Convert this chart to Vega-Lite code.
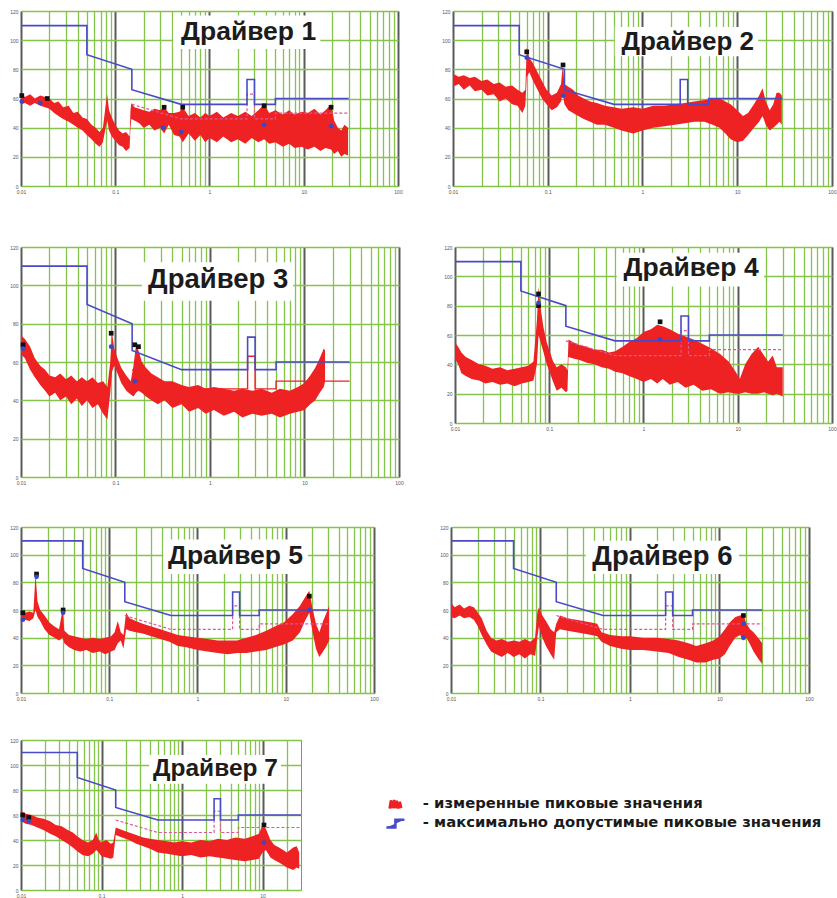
{
"$schema":"https://vega.github.io/schema/vega-lite/v6.json",
"padding":{"left":9,"top":8,"right":4,"bottom":4},
"background":"white",
"config":{"view":{"stroke":"#8a8a8a","strokeWidth":1},"font":"Liberation Sans","axisY":{"title":null,"grid":true,"values":[0,20,40,60,80,100,120],"tickCount":20,"labelOverlap":false,"ticks":false,"domain":false,"labelFontSize":5,"labelColor":"#555","labelPadding":3,"gridColor":"#84c44a","gridWidth":1.4}},
"datasets":{
"ttl":[{"p":1,"t":"Драйвер 1"},{"p":2,"t":"Драйвер 2"},{"p":3,"t":"Драйвер 3"},{"p":4,"t":"Драйвер 4"},{"p":5,"t":"Драйвер 5"},{"p":6,"t":"Драйвер 6"},{"p":7,"t":"Драйвер 7"}],
"lim":[{"f":0.01,"v":110},{"f":0.05,"v":110},{"f":0.05,"v":90},{"f":0.15,"v":80},{"f":0.15,"v":66},{"f":0.5,"v":56},{"f":2.5,"v":56},{"f":2.5,"v":73},{"f":3,"v":73},{"f":3,"v":56},{"f":5,"v":56},{"f":5,"v":60},{"f":30,"v":60}],
"avg":[{"f":0.15,"v":56},{"f":0.5,"v":46},{"f":2.5,"v":46},{"f":2.5,"v":63},{"f":3,"v":63},{"f":3,"v":46},{"f":5,"v":46},{"f":5,"v":50},{"f":30,"v":50}],
"mk":[
{"p":1,"f":0.0102,"v":62,"k":"pk"},{"p":1,"f":0.019,"v":60,"k":"pk"},{"p":1,"f":0.33,"v":54,"k":"pk"},{"p":1,"f":0.52,"v":54,"k":"pk"},{"p":1,"f":3.8,"v":55,"k":"pk"},{"p":1,"f":19.5,"v":54,"k":"pk"},
{"p":1,"f":0.0102,"v":58,"k":"av"},{"p":1,"f":0.016,"v":57,"k":"av"},{"p":1,"f":0.32,"v":40,"k":"av"},{"p":1,"f":0.5,"v":37,"k":"av"},{"p":1,"f":3.8,"v":42,"k":"av"},{"p":1,"f":19.5,"v":41,"k":"av"},
{"p":2,"f":0.06,"v":92,"k":"pk"},{"p":2,"f":0.145,"v":83,"k":"pk"},{"p":2,"f":0.06,"v":88,"k":"av"},{"p":2,"f":0.145,"v":62,"k":"av"},
{"p":3,"f":0.0105,"v":69,"k":"pk"},{"p":3,"f":0.09,"v":75,"k":"pk"},{"p":3,"f":0.16,"v":69,"k":"pk"},{"p":3,"f":0.175,"v":68,"k":"pk"},{"p":3,"f":0.0105,"v":67,"k":"av"},{"p":3,"f":0.09,"v":68,"k":"av"},{"p":3,"f":0.16,"v":50,"k":"av"},
{"p":4,"f":0.077,"v":88,"k":"pk"},{"p":4,"f":0.077,"v":80,"k":"pk"},{"p":4,"f":1.5,"v":69,"k":"pk"},{"p":4,"f":0.077,"v":82,"k":"av"},{"p":4,"f":1.5,"v":57,"k":"av"},
{"p":5,"f":0.0105,"v":58,"k":"pk"},{"p":5,"f":0.015,"v":86,"k":"pk"},{"p":5,"f":0.03,"v":60,"k":"pk"},{"p":5,"f":18.5,"v":70,"k":"pk"},{"p":5,"f":0.0105,"v":53,"k":"av"},{"p":5,"f":0.015,"v":84,"k":"av"},{"p":5,"f":0.03,"v":58,"k":"av"},{"p":5,"f":18.5,"v":60,"k":"av"},
{"p":6,"f":18.5,"v":56,"k":"pk"},{"p":6,"f":18.5,"v":50,"k":"av"},{"p":6,"f":18.5,"v":40,"k":"av"},
{"p":7,"f":0.0105,"v":60,"k":"pk"},{"p":7,"f":0.0125,"v":58,"k":"pk"},{"p":7,"f":10.4,"v":52,"k":"pk"},{"p":7,"f":0.0105,"v":56,"k":"av"},{"p":7,"f":0.0125,"v":55,"k":"av"},{"p":7,"f":10.4,"v":38,"k":"av"}
],
"red":[
{"p":1,"f":0.01,"lo":56,"hi":64},{"p":1,"f":0.011,"lo":57,"hi":61},{"p":1,"f":0.0125,"lo":55,"hi":63},{"p":1,"f":0.014,"lo":57,"hi":60},{"p":1,"f":0.016,"lo":55,"hi":62},{"p":1,"f":0.018,"lo":54,"hi":61},{"p":1,"f":0.02,"lo":53,"hi":60},{"p":1,"f":0.0225,"lo":50,"hi":57},{"p":1,"f":0.025,"lo":48,"hi":58},{"p":1,"f":0.028,"lo":46,"hi":54},{"p":1,"f":0.032,"lo":44,"hi":55},{"p":1,"f":0.036,"lo":42,"hi":50},{"p":1,"f":0.04,"lo":40,"hi":51},{"p":1,"f":0.045,"lo":38,"hi":47},{"p":1,"f":0.05,"lo":35,"hi":46},{"p":1,"f":0.056,"lo":32,"hi":42},{"p":1,"f":0.062,"lo":29,"hi":40},{"p":1,"f":0.068,"lo":27,"hi":37},{"p":1,"f":0.074,"lo":30,"hi":40},{"p":1,"f":0.079,"lo":40,"hi":55},{"p":1,"f":0.082,"lo":45,"hi":63},{"p":1,"f":0.086,"lo":38,"hi":52},{"p":1,"f":0.092,"lo":34,"hi":47},{"p":1,"f":0.1,"lo":31,"hi":42},{"p":1,"f":0.11,"lo":28,"hi":38},{"p":1,"f":0.12,"lo":27,"hi":36},{"p":1,"f":0.13,"lo":24,"hi":37},{"p":1,"f":0.142,"lo":26,"hi":34},{"p":1,"f":0.145,"lo":40,"hi":52},{"p":1,"f":0.148,"lo":46,"hi":57},{"p":1,"f":0.16,"lo":45,"hi":54},{"p":1,"f":0.18,"lo":43,"hi":53},{"p":1,"f":0.2,"lo":40,"hi":52},{"p":1,"f":0.23,"lo":42,"hi":51},{"p":1,"f":0.26,"lo":38,"hi":53},{"p":1,"f":0.3,"lo":40,"hi":52},{"p":1,"f":0.33,"lo":36,"hi":54},{"p":1,"f":0.37,"lo":42,"hi":50},{"p":1,"f":0.42,"lo":35,"hi":50},{"p":1,"f":0.48,"lo":34,"hi":51},{"p":1,"f":0.52,"lo":30,"hi":54},{"p":1,"f":0.6,"lo":36,"hi":48},{"p":1,"f":0.7,"lo":31,"hi":50},{"p":1,"f":0.8,"lo":35,"hi":47},{"p":1,"f":0.9,"lo":30,"hi":50},{"p":1,"f":1,"lo":33,"hi":48},{"p":1,"f":1.2,"lo":30,"hi":51},{"p":1,"f":1.4,"lo":34,"hi":47},{"p":1,"f":1.7,"lo":30,"hi":50},{"p":1,"f":2,"lo":32,"hi":48},{"p":1,"f":2.4,"lo":29,"hi":51},{"p":1,"f":2.8,"lo":33,"hi":48},{"p":1,"f":3.3,"lo":30,"hi":52},{"p":1,"f":3.8,"lo":32,"hi":56},{"p":1,"f":4.3,"lo":29,"hi":50},{"p":1,"f":5,"lo":30,"hi":52},{"p":1,"f":6,"lo":27,"hi":49},{"p":1,"f":7,"lo":29,"hi":52},{"p":1,"f":8,"lo":26,"hi":49},{"p":1,"f":9.5,"lo":27,"hi":51},{"p":1,"f":11,"lo":25,"hi":50},{"p":1,"f":13,"lo":27,"hi":53},{"p":1,"f":15,"lo":24,"hi":49},{"p":1,"f":17,"lo":26,"hi":52},{"p":1,"f":19.5,"lo":25,"hi":56},{"p":1,"f":21,"lo":22,"hi":45},{"p":1,"f":23,"lo":24,"hi":40},{"p":1,"f":25,"lo":20,"hi":38},{"p":1,"f":27,"lo":22,"hi":42},{"p":1,"f":29.5,"lo":21,"hi":40},
{"p":2,"f":0.01,"lo":68,"hi":77},{"p":2,"f":0.0115,"lo":70,"hi":75},{"p":2,"f":0.013,"lo":66,"hi":76},{"p":2,"f":0.015,"lo":69,"hi":74},{"p":2,"f":0.017,"lo":65,"hi":75},{"p":2,"f":0.02,"lo":66,"hi":72},{"p":2,"f":0.023,"lo":62,"hi":73},{"p":2,"f":0.027,"lo":63,"hi":70},{"p":2,"f":0.031,"lo":58,"hi":71},{"p":2,"f":0.036,"lo":60,"hi":68},{"p":2,"f":0.042,"lo":56,"hi":69},{"p":2,"f":0.048,"lo":55,"hi":66},{"p":2,"f":0.054,"lo":50,"hi":64},{"p":2,"f":0.058,"lo":55,"hi":66},{"p":2,"f":0.06,"lo":75,"hi":95},{"p":2,"f":0.064,"lo":78,"hi":88},{"p":2,"f":0.07,"lo":72,"hi":84},{"p":2,"f":0.078,"lo":66,"hi":78},{"p":2,"f":0.087,"lo":60,"hi":72},{"p":2,"f":0.097,"lo":56,"hi":66},{"p":2,"f":0.11,"lo":52,"hi":62},{"p":2,"f":0.125,"lo":54,"hi":64},{"p":2,"f":0.138,"lo":58,"hi":70},{"p":2,"f":0.144,"lo":64,"hi":83},{"p":2,"f":0.15,"lo":56,"hi":70},{"p":2,"f":0.165,"lo":52,"hi":68},{"p":2,"f":0.185,"lo":50,"hi":66},{"p":2,"f":0.21,"lo":48,"hi":62},{"p":2,"f":0.24,"lo":46,"hi":60},{"p":2,"f":0.28,"lo":44,"hi":58},{"p":2,"f":0.33,"lo":42,"hi":57},{"p":2,"f":0.4,"lo":42,"hi":55},{"p":2,"f":0.5,"lo":40,"hi":54},{"p":2,"f":0.6,"lo":38,"hi":53},{"p":2,"f":0.8,"lo":36,"hi":54},{"p":2,"f":1,"lo":38,"hi":53},{"p":2,"f":1.3,"lo":40,"hi":55},{"p":2,"f":1.7,"lo":41,"hi":55},{"p":2,"f":2.2,"lo":42,"hi":56},{"p":2,"f":2.8,"lo":43,"hi":57},{"p":2,"f":3.5,"lo":44,"hi":58},{"p":2,"f":4.5,"lo":44,"hi":59},{"p":2,"f":5.5,"lo":42,"hi":60},{"p":2,"f":6.5,"lo":40,"hi":60},{"p":2,"f":7.5,"lo":36,"hi":58},{"p":2,"f":8.5,"lo":32,"hi":56},{"p":2,"f":10,"lo":30,"hi":52},{"p":2,"f":11.5,"lo":31,"hi":48},{"p":2,"f":13,"lo":35,"hi":50},{"p":2,"f":15,"lo":40,"hi":56},{"p":2,"f":17,"lo":44,"hi":62},{"p":2,"f":18.5,"lo":48,"hi":67},{"p":2,"f":20,"lo":42,"hi":58},{"p":2,"f":22,"lo":38,"hi":52},{"p":2,"f":24,"lo":40,"hi":56},{"p":2,"f":26,"lo":42,"hi":64},{"p":2,"f":28,"lo":44,"hi":64},{"p":2,"f":29.5,"lo":42,"hi":62},
{"p":3,"f":0.01,"lo":64,"hi":74},{"p":3,"f":0.011,"lo":62,"hi":72},{"p":3,"f":0.0125,"lo":56,"hi":68},{"p":3,"f":0.014,"lo":52,"hi":62},{"p":3,"f":0.016,"lo":48,"hi":58},{"p":3,"f":0.018,"lo":45,"hi":56},{"p":3,"f":0.02,"lo":42,"hi":53},{"p":3,"f":0.023,"lo":44,"hi":52},{"p":3,"f":0.026,"lo":40,"hi":54},{"p":3,"f":0.03,"lo":42,"hi":51},{"p":3,"f":0.034,"lo":38,"hi":53},{"p":3,"f":0.039,"lo":41,"hi":50},{"p":3,"f":0.044,"lo":37,"hi":52},{"p":3,"f":0.05,"lo":40,"hi":50},{"p":3,"f":0.057,"lo":36,"hi":52},{"p":3,"f":0.065,"lo":38,"hi":49},{"p":3,"f":0.074,"lo":33,"hi":50},{"p":3,"f":0.082,"lo":30,"hi":47},{"p":3,"f":0.088,"lo":44,"hi":60},{"p":3,"f":0.092,"lo":55,"hi":75},{"p":3,"f":0.097,"lo":58,"hi":67},{"p":3,"f":0.105,"lo":54,"hi":62},{"p":3,"f":0.115,"lo":49,"hi":57},{"p":3,"f":0.13,"lo":45,"hi":53},{"p":3,"f":0.145,"lo":43,"hi":50},{"p":3,"f":0.155,"lo":42,"hi":58},{"p":3,"f":0.165,"lo":44,"hi":69},{"p":3,"f":0.175,"lo":45,"hi":66},{"p":3,"f":0.19,"lo":44,"hi":60},{"p":3,"f":0.21,"lo":42,"hi":57},{"p":3,"f":0.24,"lo":40,"hi":54},{"p":3,"f":0.28,"lo":38,"hi":52},{"p":3,"f":0.33,"lo":40,"hi":50},{"p":3,"f":0.4,"lo":36,"hi":50},{"p":3,"f":0.5,"lo":38,"hi":48},{"p":3,"f":0.6,"lo":34,"hi":47},{"p":3,"f":0.75,"lo":36,"hi":48},{"p":3,"f":0.9,"lo":33,"hi":46},{"p":3,"f":1.1,"lo":35,"hi":47},{"p":3,"f":1.4,"lo":32,"hi":46},{"p":3,"f":1.8,"lo":34,"hi":45},{"p":3,"f":2.2,"lo":31,"hi":46},{"p":3,"f":2.8,"lo":33,"hi":45},{"p":3,"f":3.5,"lo":32,"hi":46},{"p":3,"f":4.5,"lo":33,"hi":44},{"p":3,"f":5.5,"lo":31,"hi":46},{"p":3,"f":7,"lo":33,"hi":45},{"p":3,"f":8.5,"lo":34,"hi":47},{"p":3,"f":10,"lo":35,"hi":49},{"p":3,"f":11.5,"lo":38,"hi":53},{"p":3,"f":13,"lo":40,"hi":57},{"p":3,"f":14.5,"lo":44,"hi":62},{"p":3,"f":16,"lo":47,"hi":67},{"p":3,"f":16.5,"lo":50,"hi":66},
{"p":4,"f":0.01,"lo":44,"hi":55},{"p":4,"f":0.0108,"lo":40,"hi":52},{"p":4,"f":0.0117,"lo":34,"hi":48},{"p":4,"f":0.013,"lo":32,"hi":45},{"p":4,"f":0.015,"lo":30,"hi":43},{"p":4,"f":0.018,"lo":29,"hi":40},{"p":4,"f":0.021,"lo":27,"hi":39},{"p":4,"f":0.025,"lo":28,"hi":37},{"p":4,"f":0.03,"lo":26,"hi":38},{"p":4,"f":0.036,"lo":27,"hi":36},{"p":4,"f":0.043,"lo":25,"hi":37},{"p":4,"f":0.051,"lo":27,"hi":38},{"p":4,"f":0.06,"lo":28,"hi":39},{"p":4,"f":0.068,"lo":29,"hi":42},{"p":4,"f":0.074,"lo":40,"hi":70},{"p":4,"f":0.077,"lo":60,"hi":93},{"p":4,"f":0.081,"lo":55,"hi":78},{"p":4,"f":0.087,"lo":48,"hi":65},{"p":4,"f":0.094,"lo":40,"hi":55},{"p":4,"f":0.102,"lo":34,"hi":48},{"p":4,"f":0.11,"lo":28,"hi":42},{"p":4,"f":0.12,"lo":22,"hi":38},{"p":4,"f":0.135,"lo":24,"hi":40},{"p":4,"f":0.15,"lo":21,"hi":38},{"p":4,"f":0.156,"lo":22,"hi":36},{"p":4,"f":0.16,"lo":45,"hi":57},{"p":4,"f":0.18,"lo":44,"hi":55},{"p":4,"f":0.21,"lo":43,"hi":53},{"p":4,"f":0.25,"lo":41,"hi":52},{"p":4,"f":0.3,"lo":40,"hi":50},{"p":4,"f":0.36,"lo":38,"hi":50},{"p":4,"f":0.43,"lo":37,"hi":48},{"p":4,"f":0.5,"lo":35,"hi":49},{"p":4,"f":0.6,"lo":34,"hi":52},{"p":4,"f":0.7,"lo":32,"hi":55},{"p":4,"f":0.85,"lo":30,"hi":58},{"p":4,"f":1,"lo":28,"hi":62},{"p":4,"f":1.2,"lo":30,"hi":64},{"p":4,"f":1.4,"lo":27,"hi":67},{"p":4,"f":1.6,"lo":30,"hi":66},{"p":4,"f":1.9,"lo":26,"hi":64},{"p":4,"f":2.3,"lo":28,"hi":61},{"p":4,"f":2.8,"lo":24,"hi":59},{"p":4,"f":3.4,"lo":26,"hi":57},{"p":4,"f":4.2,"lo":22,"hi":54},{"p":4,"f":5.2,"lo":23,"hi":51},{"p":4,"f":6.5,"lo":20,"hi":47},{"p":4,"f":8,"lo":21,"hi":42},{"p":4,"f":9.5,"lo":20,"hi":35},{"p":4,"f":10.5,"lo":20,"hi":30},{"p":4,"f":12,"lo":21,"hi":40},{"p":4,"f":14,"lo":20,"hi":47},{"p":4,"f":16.5,"lo":20,"hi":52},{"p":4,"f":19,"lo":21,"hi":46},{"p":4,"f":21,"lo":20,"hi":42},{"p":4,"f":23.5,"lo":19,"hi":46},{"p":4,"f":26,"lo":20,"hi":38},{"p":4,"f":30,"lo":18,"hi":38},
{"p":5,"f":0.01,"lo":52,"hi":60},{"p":5,"f":0.011,"lo":53,"hi":58},{"p":5,"f":0.0125,"lo":52,"hi":59},{"p":5,"f":0.0138,"lo":54,"hi":58},{"p":5,"f":0.0146,"lo":60,"hi":86},{"p":5,"f":0.0154,"lo":55,"hi":66},{"p":5,"f":0.0165,"lo":52,"hi":60},{"p":5,"f":0.0185,"lo":46,"hi":56},{"p":5,"f":0.021,"lo":42,"hi":51},{"p":5,"f":0.024,"lo":40,"hi":48},{"p":5,"f":0.027,"lo":38,"hi":46},{"p":5,"f":0.0295,"lo":40,"hi":60},{"p":5,"f":0.031,"lo":36,"hi":45},{"p":5,"f":0.035,"lo":33,"hi":42},{"p":5,"f":0.04,"lo":31,"hi":41},{"p":5,"f":0.047,"lo":30,"hi":40},{"p":5,"f":0.055,"lo":31,"hi":39},{"p":5,"f":0.065,"lo":29,"hi":40},{"p":5,"f":0.078,"lo":30,"hi":39},{"p":5,"f":0.09,"lo":28,"hi":40},{"p":5,"f":0.105,"lo":30,"hi":41},{"p":5,"f":0.115,"lo":31,"hi":44},{"p":5,"f":0.125,"lo":36,"hi":52},{"p":5,"f":0.135,"lo":38,"hi":44},{"p":5,"f":0.145,"lo":32,"hi":42},{"p":5,"f":0.155,"lo":46,"hi":58},{"p":5,"f":0.17,"lo":45,"hi":54},{"p":5,"f":0.2,"lo":44,"hi":52},{"p":5,"f":0.24,"lo":43,"hi":50},{"p":5,"f":0.3,"lo":41,"hi":48},{"p":5,"f":0.38,"lo":39,"hi":46},{"p":5,"f":0.48,"lo":37,"hi":44},{"p":5,"f":0.6,"lo":34,"hi":42},{"p":5,"f":0.75,"lo":33,"hi":41},{"p":5,"f":1,"lo":31,"hi":40},{"p":5,"f":1.3,"lo":30,"hi":39},{"p":5,"f":1.7,"lo":29,"hi":38},{"p":5,"f":2.2,"lo":28,"hi":38},{"p":5,"f":2.8,"lo":29,"hi":38},{"p":5,"f":3.6,"lo":29,"hi":40},{"p":5,"f":4.6,"lo":30,"hi":42},{"p":5,"f":6,"lo":31,"hi":45},{"p":5,"f":7.5,"lo":33,"hi":48},{"p":5,"f":9.5,"lo":35,"hi":51},{"p":5,"f":12,"lo":38,"hi":57},{"p":5,"f":14.5,"lo":44,"hi":63},{"p":5,"f":16.5,"lo":52,"hi":69},{"p":5,"f":18.5,"lo":58,"hi":74},{"p":5,"f":20,"lo":45,"hi":62},{"p":5,"f":22,"lo":32,"hi":50},{"p":5,"f":24,"lo":26,"hi":44},{"p":5,"f":26.5,"lo":30,"hi":52},{"p":5,"f":29,"lo":34,"hi":58},{"p":5,"f":31,"lo":38,"hi":63},
{"p":6,"f":0.01,"lo":55,"hi":65},{"p":6,"f":0.011,"lo":54,"hi":62},{"p":6,"f":0.0125,"lo":56,"hi":64},{"p":6,"f":0.014,"lo":54,"hi":61},{"p":6,"f":0.016,"lo":55,"hi":63},{"p":6,"f":0.018,"lo":53,"hi":62},{"p":6,"f":0.02,"lo":48,"hi":58},{"p":6,"f":0.022,"lo":42,"hi":54},{"p":6,"f":0.025,"lo":35,"hi":45},{"p":6,"f":0.028,"lo":30,"hi":40},{"p":6,"f":0.032,"lo":28,"hi":38},{"p":6,"f":0.037,"lo":26,"hi":39},{"p":6,"f":0.043,"lo":29,"hi":37},{"p":6,"f":0.05,"lo":26,"hi":38},{"p":6,"f":0.058,"lo":28,"hi":37},{"p":6,"f":0.067,"lo":25,"hi":39},{"p":6,"f":0.077,"lo":28,"hi":37},{"p":6,"f":0.087,"lo":27,"hi":40},{"p":6,"f":0.092,"lo":40,"hi":58},{"p":6,"f":0.096,"lo":48,"hi":62},{"p":6,"f":0.105,"lo":40,"hi":56},{"p":6,"f":0.115,"lo":34,"hi":52},{"p":6,"f":0.13,"lo":28,"hi":46},{"p":6,"f":0.142,"lo":24,"hi":44},{"p":6,"f":0.15,"lo":44,"hi":50},{"p":6,"f":0.165,"lo":46,"hi":56},{"p":6,"f":0.2,"lo":45,"hi":54},{"p":6,"f":0.25,"lo":44,"hi":53},{"p":6,"f":0.3,"lo":43,"hi":52},{"p":6,"f":0.37,"lo":42,"hi":51},{"p":6,"f":0.43,"lo":41,"hi":50},{"p":6,"f":0.48,"lo":37,"hi":44},{"p":6,"f":0.6,"lo":34,"hi":42},{"p":6,"f":0.8,"lo":32,"hi":41},{"p":6,"f":1,"lo":31,"hi":41},{"p":6,"f":1.4,"lo":31,"hi":40},{"p":6,"f":2,"lo":30,"hi":40},{"p":6,"f":2.7,"lo":29,"hi":39},{"p":6,"f":3.5,"lo":26,"hi":38},{"p":6,"f":4.5,"lo":24,"hi":36},{"p":6,"f":5.5,"lo":22,"hi":34},{"p":6,"f":7,"lo":22,"hi":36},{"p":6,"f":8.5,"lo":24,"hi":38},{"p":6,"f":10,"lo":25,"hi":41},{"p":6,"f":11.5,"lo":28,"hi":46},{"p":6,"f":13,"lo":34,"hi":51},{"p":6,"f":15,"lo":40,"hi":55},{"p":6,"f":17,"lo":42,"hi":56},{"p":6,"f":18.5,"lo":38,"hi":57},{"p":6,"f":20,"lo":40,"hi":50},{"p":6,"f":22,"lo":35,"hi":46},{"p":6,"f":24,"lo":30,"hi":44},{"p":6,"f":27,"lo":25,"hi":40},{"p":6,"f":30,"lo":21,"hi":36},
{"p":7,"f":0.01,"lo":55,"hi":63},{"p":7,"f":0.0115,"lo":53,"hi":61},{"p":7,"f":0.0135,"lo":52,"hi":60},{"p":7,"f":0.016,"lo":50,"hi":58},{"p":7,"f":0.019,"lo":48,"hi":57},{"p":7,"f":0.023,"lo":45,"hi":55},{"p":7,"f":0.027,"lo":43,"hi":52},{"p":7,"f":0.032,"lo":40,"hi":51},{"p":7,"f":0.038,"lo":37,"hi":48},{"p":7,"f":0.044,"lo":34,"hi":46},{"p":7,"f":0.05,"lo":31,"hi":43},{"p":7,"f":0.058,"lo":28,"hi":40},{"p":7,"f":0.068,"lo":27,"hi":38},{"p":7,"f":0.078,"lo":29,"hi":40},{"p":7,"f":0.086,"lo":32,"hi":46},{"p":7,"f":0.092,"lo":30,"hi":40},{"p":7,"f":0.1,"lo":27,"hi":38},{"p":7,"f":0.115,"lo":26,"hi":40},{"p":7,"f":0.13,"lo":25,"hi":37},{"p":7,"f":0.14,"lo":26,"hi":38},{"p":7,"f":0.15,"lo":44,"hi":50},{"p":7,"f":0.18,"lo":42,"hi":48},{"p":7,"f":0.22,"lo":40,"hi":46},{"p":7,"f":0.27,"lo":37,"hi":44},{"p":7,"f":0.33,"lo":35,"hi":42},{"p":7,"f":0.4,"lo":33,"hi":41},{"p":7,"f":0.5,"lo":30,"hi":40},{"p":7,"f":0.65,"lo":29,"hi":39},{"p":7,"f":0.8,"lo":28,"hi":38},{"p":7,"f":1,"lo":27,"hi":39},{"p":7,"f":1.3,"lo":28,"hi":38},{"p":7,"f":1.7,"lo":26,"hi":40},{"p":7,"f":2.2,"lo":27,"hi":39},{"p":7,"f":2.8,"lo":26,"hi":41},{"p":7,"f":3.6,"lo":25,"hi":40},{"p":7,"f":4.6,"lo":24,"hi":42},{"p":7,"f":6,"lo":23,"hi":41},{"p":7,"f":7.5,"lo":24,"hi":43},{"p":7,"f":9,"lo":25,"hi":45},{"p":7,"f":10,"lo":30,"hi":52},{"p":7,"f":11,"lo":32,"hi":49},{"p":7,"f":12.5,"lo":26,"hi":40},{"p":7,"f":14,"lo":24,"hi":36},{"p":7,"f":16,"lo":22,"hi":34},{"p":7,"f":18,"lo":20,"hi":32},{"p":7,"f":20,"lo":18,"hi":30},{"p":7,"f":22,"lo":17,"hi":32},{"p":7,"f":24,"lo":16,"hi":34},{"p":7,"f":26.5,"lo":18,"hi":35},{"p":7,"f":28.5,"lo":17,"hi":30}
]
},
"spacing":38,
"vconcat":[
{"spacing":49,"vconcat":[
{"spacing":38,"hconcat":[
{"width":377,"height":175,"layer":[
{"data":{"name":"ttl"},"transform":[{"filter":"datum.p==1"}],"mark":{"type":"rect","color":"white"},"encoding":{"x":{"datum":0.41,"type":"quantitative","scale":{"type":"log","domain":[0.01,100],"nice":false},"axis":{"title":null,"grid":true,"values":[0.01,0.02,0.03,0.04,0.05,0.06,0.07,0.08,0.09,0.1,0.2,0.3,0.4,0.5,0.6,0.7,0.8,0.9,1,2,3,4,5,6,7,8,9,10,20,30,40,50,60,70,80,90,100],"tickCount":60,"labelExpr":"indexof([0.01,0.1,1,10,100],datum.value)>=0?''+datum.value:''","ticks":false,"domain":false,"labelFontSize":5,"labelColor":"#555","labelPadding":3,"labelOverlap":false,"labelFlush":false,"gridColor":{"condition":{"test":"indexof([0.01,0.1,1,10,100],datum.value)>=0","value":"#5a5a5a"},"value":"#84c44a"},"gridWidth":{"condition":{"test":"indexof([0.01,0.1,1,10,100],datum.value)>=0","value":2},"value":1.3}}},"x2":{"datum":15},"y":{"datum":94,"type":"quantitative","scale":{"domain":[0,120],"nice":false},"axis":{"values":[0,20,40,60,80,100,120],"tickCount":20}},"y2":{"datum":117}}},
{"data":{"name":"red"},"transform":[{"filter":"datum.p==1"}],"mark":{"type":"area","color":"#ee2222","clip":true},"encoding":{"x":{"field":"f","type":"quantitative"},"y":{"field":"hi","type":"quantitative"},"y2":{"field":"lo"}}},
{"data":{"name":"avg"},"mark":{"type":"line","color":"#e0559c","strokeDash":[3,2],"strokeWidth":1.2},"encoding":{"x":{"field":"f","type":"quantitative"},"y":{"field":"v","type":"quantitative"},"order":{"value":null}}},
{"data":{"name":"lim"},"mark":{"type":"line","color":"#4a4ac8","strokeWidth":1.6},"encoding":{"x":{"field":"f","type":"quantitative"},"y":{"field":"v","type":"quantitative"},"order":{"value":null}}},
{"data":{"name":"mk"},"transform":[{"filter":"datum.p==1"}],"mark":{"type":"point","filled":true,"size":22,"opacity":1},"encoding":{"x":{"field":"f","type":"quantitative"},"y":{"field":"v","type":"quantitative"},"color":{"condition":{"test":"datum.k=='pk'","value":"#111111"},"value":"#3a48c8"},"shape":{"condition":{"test":"datum.k=='pk'","value":"square"},"value":"circle"}}},
{"data":{"name":"ttl"},"transform":[{"filter":"datum.p==1"}],"mark":{"type":"text","font":"Liberation Sans","fontWeight":"bold","fontSize":26.5,"color":"#1c1c1c"},"encoding":{"x":{"datum":2.6},"y":{"datum":105.5},"text":{"field":"t"}}}
]},
{"width":379,"height":175,"layer":[
{"data":{"name":"ttl"},"transform":[{"filter":"datum.p==2"}],"mark":{"type":"rect","color":"white"},"encoding":{"x":{"datum":0.51,"type":"quantitative","scale":{"type":"log","domain":[0.01,100],"nice":false},"axis":{"title":null,"grid":true,"values":[0.01,0.02,0.03,0.04,0.05,0.06,0.07,0.08,0.09,0.1,0.2,0.3,0.4,0.5,0.6,0.7,0.8,0.9,1,2,3,4,5,6,7,8,9,10,20,30,40,50,60,70,80,90,100],"tickCount":60,"labelExpr":"indexof([0.01,0.1,1,10,100],datum.value)>=0?''+datum.value:''","ticks":false,"domain":false,"labelFontSize":5,"labelColor":"#555","labelPadding":3,"labelOverlap":false,"labelFlush":false,"gridColor":{"condition":{"test":"indexof([0.01,0.1,1,10,100],datum.value)>=0","value":"#5a5a5a"},"value":"#84c44a"},"gridWidth":{"condition":{"test":"indexof([0.01,0.1,1,10,100],datum.value)>=0","value":2},"value":1.3}}},"x2":{"datum":16.6},"y":{"datum":89,"type":"quantitative","scale":{"domain":[0,120],"nice":false},"axis":{"values":[0,20,40,60,80,100,120],"tickCount":20}},"y2":{"datum":109}}},
{"data":{"name":"red"},"transform":[{"filter":"datum.p==2"}],"mark":{"type":"area","color":"#ee2222","clip":true},"encoding":{"x":{"field":"f","type":"quantitative"},"y":{"field":"hi","type":"quantitative"},"y2":{"field":"lo"}}},
{"data":{"name":"lim"},"mark":{"type":"line","color":"#4a4ac8","strokeWidth":1.6},"encoding":{"x":{"field":"f","type":"quantitative"},"y":{"field":"v","type":"quantitative"},"order":{"value":null}}},
{"data":{"name":"mk"},"transform":[{"filter":"datum.p==2"}],"mark":{"type":"point","filled":true,"size":22,"opacity":1},"encoding":{"x":{"field":"f","type":"quantitative"},"y":{"field":"v","type":"quantitative"},"color":{"condition":{"test":"datum.k=='pk'","value":"#111111"},"value":"#3a48c8"},"shape":{"condition":{"test":"datum.k=='pk'","value":"square"},"value":"circle"}}},
{"data":{"name":"ttl"},"transform":[{"filter":"datum.p==2"}],"mark":{"type":"text","font":"Liberation Sans","fontWeight":"bold","fontSize":26,"color":"#1c1c1c"},"encoding":{"x":{"datum":3.0},"y":{"datum":98.6},"text":{"field":"t"}}}
]}
]},
{"spacing":39,"hconcat":[
{"width":378,"height":230,"layer":[
{"data":{"name":"ttl"},"transform":[{"filter":"datum.p==3"}],"mark":{"type":"rect","color":"white"},"encoding":{"x":{"datum":0.19,"type":"quantitative","scale":{"type":"log","domain":[0.01,100],"nice":false},"axis":{"title":null,"grid":true,"values":[0.01,0.02,0.03,0.04,0.05,0.06,0.07,0.08,0.09,0.1,0.2,0.3,0.4,0.5,0.6,0.7,0.8,0.9,1,2,3,4,5,6,7,8,9,10,20,30,40,50,60,70,80,90,100],"tickCount":60,"labelExpr":"indexof([0.01,0.1,1,10,100],datum.value)>=0?''+datum.value:''","ticks":false,"domain":false,"labelFontSize":5,"labelColor":"#555","labelPadding":3,"labelOverlap":false,"labelFlush":false,"gridColor":{"condition":{"test":"indexof([0.01,0.1,1,10,100],datum.value)>=0","value":"#5a5a5a"},"value":"#84c44a"},"gridWidth":{"condition":{"test":"indexof([0.01,0.1,1,10,100],datum.value)>=0","value":2},"value":1.3}}},"x2":{"datum":7.6},"y":{"datum":92,"type":"quantitative","scale":{"domain":[0,120],"nice":false},"axis":{"values":[0,20,40,60,80,100,120],"tickCount":20}},"y2":{"datum":112}}},
{"data":{"name":"red"},"transform":[{"filter":"datum.p==3"}],"mark":{"type":"area","color":"#ee2222","clip":true},"encoding":{"x":{"field":"f","type":"quantitative"},"y":{"field":"hi","type":"quantitative"},"y2":{"field":"lo"}}},
{"data":{"name":"avg"},"mark":{"type":"line","color":"#ee2222","strokeWidth":1.4},"encoding":{"x":{"field":"f","type":"quantitative"},"y":{"field":"v","type":"quantitative"},"order":{"value":null}}},
{"data":{"name":"lim"},"mark":{"type":"line","color":"#4a4ac8","strokeWidth":1.6},"encoding":{"x":{"field":"f","type":"quantitative"},"y":{"field":"v","type":"quantitative"},"order":{"value":null}}},
{"data":{"name":"mk"},"transform":[{"filter":"datum.p==3"}],"mark":{"type":"point","filled":true,"size":22,"opacity":1},"encoding":{"x":{"field":"f","type":"quantitative"},"y":{"field":"v","type":"quantitative"},"color":{"condition":{"test":"datum.k=='pk'","value":"#111111"},"value":"#3a48c8"},"shape":{"condition":{"test":"datum.k=='pk'","value":"square"},"value":"circle"}}},
{"data":{"name":"ttl"},"transform":[{"filter":"datum.p==3"}],"mark":{"type":"text","font":"Liberation Sans","fontWeight":"bold","fontSize":27.5,"color":"#1c1c1c"},"encoding":{"x":{"datum":1.22},"y":{"datum":102.6},"text":{"field":"t"}}}
]},
{"width":377,"height":176,"layer":[
{"data":{"name":"ttl"},"transform":[{"filter":"datum.p==4"}],"mark":{"type":"rect","color":"white"},"encoding":{"x":{"datum":0.52,"type":"quantitative","scale":{"type":"log","domain":[0.01,100],"nice":false},"axis":{"title":null,"grid":true,"values":[0.01,0.02,0.03,0.04,0.05,0.06,0.07,0.08,0.09,0.1,0.2,0.3,0.4,0.5,0.6,0.7,0.8,0.9,1,2,3,4,5,6,7,8,9,10,20,30,40,50,60,70,80,90,100],"tickCount":60,"labelExpr":"indexof([0.01,0.1,1,10,100],datum.value)>=0?''+datum.value:''","ticks":false,"domain":false,"labelFontSize":5,"labelColor":"#555","labelPadding":3,"labelOverlap":false,"labelFlush":false,"gridColor":{"condition":{"test":"indexof([0.01,0.1,1,10,100],datum.value)>=0","value":"#5a5a5a"},"value":"#84c44a"},"gridWidth":{"condition":{"test":"indexof([0.01,0.1,1,10,100],datum.value)>=0","value":2},"value":1.3}}},"x2":{"datum":19},"y":{"datum":93,"type":"quantitative","scale":{"domain":[0,120],"nice":false},"axis":{"values":[0,20,40,60,80,100,120],"tickCount":20}},"y2":{"datum":116}}},
{"data":{"name":"red"},"transform":[{"filter":"datum.p==4"}],"mark":{"type":"area","color":"#ee2222","clip":true},"encoding":{"x":{"field":"f","type":"quantitative"},"y":{"field":"hi","type":"quantitative"},"y2":{"field":"lo"}}},
{"data":{"name":"avg"},"mark":{"type":"line","color":"#e0559c","strokeDash":[3,2],"strokeWidth":1.2},"encoding":{"x":{"field":"f","type":"quantitative"},"y":{"field":"v","type":"quantitative"},"order":{"value":null}}},
{"data":{"name":"lim"},"mark":{"type":"line","color":"#4a4ac8","strokeWidth":1.6},"encoding":{"x":{"field":"f","type":"quantitative"},"y":{"field":"v","type":"quantitative"},"order":{"value":null}}},
{"data":{"name":"mk"},"transform":[{"filter":"datum.p==4"}],"mark":{"type":"point","filled":true,"size":22,"opacity":1},"encoding":{"x":{"field":"f","type":"quantitative"},"y":{"field":"v","type":"quantitative"},"color":{"condition":{"test":"datum.k=='pk'","value":"#111111"},"value":"#3a48c8"},"shape":{"condition":{"test":"datum.k=='pk'","value":"square"},"value":"circle"}}},
{"data":{"name":"ttl"},"transform":[{"filter":"datum.p==4"}],"mark":{"type":"text","font":"Liberation Sans","fontWeight":"bold","fontSize":26.5,"color":"#1c1c1c"},"encoding":{"x":{"datum":3.2},"y":{"datum":105.7},"text":{"field":"t"}}}
]}
]}
]},
{"spacing":35,"vconcat":[
{"spacing":60,"hconcat":[
{"width":353,"height":166,"layer":[
{"data":{"name":"ttl"},"transform":[{"filter":"datum.p==5"}],"mark":{"type":"rect","color":"white"},"encoding":{"x":{"datum":0.41,"type":"quantitative","scale":{"type":"log","domain":[0.01,100],"nice":false},"axis":{"title":null,"grid":true,"values":[0.01,0.02,0.03,0.04,0.05,0.06,0.07,0.08,0.09,0.1,0.2,0.3,0.4,0.5,0.6,0.7,0.8,0.9,1,2,3,4,5,6,7,8,9,10,20,30,40,50,60,70,80,90,100],"tickCount":60,"labelExpr":"indexof([0.01,0.1,1,10,100],datum.value)>=0?''+datum.value:''","ticks":false,"domain":false,"labelFontSize":5,"labelColor":"#555","labelPadding":3,"labelOverlap":false,"labelFlush":false,"gridColor":{"condition":{"test":"indexof([0.01,0.1,1,10,100],datum.value)>=0","value":"#5a5a5a"},"value":"#84c44a"},"gridWidth":{"condition":{"test":"indexof([0.01,0.1,1,10,100],datum.value)>=0","value":2},"value":1.3}}},"x2":{"datum":17.8},"y":{"datum":86,"type":"quantitative","scale":{"domain":[0,120],"nice":false},"axis":{"values":[0,20,40,60,80,100,120],"tickCount":20}},"y2":{"datum":111}}},
{"data":{"name":"red"},"transform":[{"filter":"datum.p==5"}],"mark":{"type":"area","color":"#ee2222","clip":true},"encoding":{"x":{"field":"f","type":"quantitative"},"y":{"field":"hi","type":"quantitative"},"y2":{"field":"lo"}}},
{"data":{"name":"avg"},"mark":{"type":"line","color":"#e0559c","strokeDash":[3,2],"strokeWidth":1.2},"encoding":{"x":{"field":"f","type":"quantitative"},"y":{"field":"v","type":"quantitative"},"order":{"value":null}}},
{"data":{"name":"lim"},"mark":{"type":"line","color":"#4a4ac8","strokeWidth":1.6},"encoding":{"x":{"field":"f","type":"quantitative"},"y":{"field":"v","type":"quantitative"},"order":{"value":null}}},
{"data":{"name":"mk"},"transform":[{"filter":"datum.p==5"}],"mark":{"type":"point","filled":true,"size":22,"opacity":1},"encoding":{"x":{"field":"f","type":"quantitative"},"y":{"field":"v","type":"quantitative"},"color":{"condition":{"test":"datum.k=='pk'","value":"#111111"},"value":"#3a48c8"},"shape":{"condition":{"test":"datum.k=='pk'","value":"square"},"value":"circle"}}},
{"data":{"name":"ttl"},"transform":[{"filter":"datum.p==5"}],"mark":{"type":"text","font":"Liberation Sans","fontWeight":"bold","fontSize":26.5,"color":"#1c1c1c"},"encoding":{"x":{"datum":2.7},"y":{"datum":99},"text":{"field":"t"}}}
]},
{"width":358,"height":166,"layer":[
{"data":{"name":"ttl"},"transform":[{"filter":"datum.p==6"}],"mark":{"type":"rect","color":"white"},"encoding":{"x":{"datum":0.32,"type":"quantitative","scale":{"type":"log","domain":[0.01,100],"nice":false},"axis":{"title":null,"grid":true,"values":[0.01,0.02,0.03,0.04,0.05,0.06,0.07,0.08,0.09,0.1,0.2,0.3,0.4,0.5,0.6,0.7,0.8,0.9,1,2,3,4,5,6,7,8,9,10,20,30,40,50,60,70,80,90,100],"tickCount":60,"labelExpr":"indexof([0.01,0.1,1,10,100],datum.value)>=0?''+datum.value:''","ticks":false,"domain":false,"labelFontSize":5,"labelColor":"#555","labelPadding":3,"labelOverlap":false,"labelFlush":false,"gridColor":{"condition":{"test":"indexof([0.01,0.1,1,10,100],datum.value)>=0","value":"#5a5a5a"},"value":"#84c44a"},"gridWidth":{"condition":{"test":"indexof([0.01,0.1,1,10,100],datum.value)>=0","value":2},"value":1.3}}},"x2":{"datum":16.5},"y":{"datum":86,"type":"quantitative","scale":{"domain":[0,120],"nice":false},"axis":{"values":[0,20,40,60,80,100,120],"tickCount":20}},"y2":{"datum":110}}},
{"data":{"name":"red"},"transform":[{"filter":"datum.p==6"}],"mark":{"type":"area","color":"#ee2222","clip":true},"encoding":{"x":{"field":"f","type":"quantitative"},"y":{"field":"hi","type":"quantitative"},"y2":{"field":"lo"}}},
{"data":{"name":"avg"},"mark":{"type":"line","color":"#e0559c","strokeDash":[3,2],"strokeWidth":1.2},"encoding":{"x":{"field":"f","type":"quantitative"},"y":{"field":"v","type":"quantitative"},"order":{"value":null}}},
{"data":{"name":"lim"},"mark":{"type":"line","color":"#4a4ac8","strokeWidth":1.6},"encoding":{"x":{"field":"f","type":"quantitative"},"y":{"field":"v","type":"quantitative"},"order":{"value":null}}},
{"data":{"name":"mk"},"transform":[{"filter":"datum.p==6"}],"mark":{"type":"point","filled":true,"size":22,"opacity":1},"encoding":{"x":{"field":"f","type":"quantitative"},"y":{"field":"v","type":"quantitative"},"color":{"condition":{"test":"datum.k=='pk'","value":"#111111"},"value":"#3a48c8"},"shape":{"condition":{"test":"datum.k=='pk'","value":"square"},"value":"circle"}}},
{"data":{"name":"ttl"},"transform":[{"filter":"datum.p==6"}],"mark":{"type":"text","font":"Liberation Sans","fontWeight":"bold","fontSize":27.5,"color":"#1c1c1c"},"encoding":{"x":{"datum":2.3},"y":{"datum":98.6},"text":{"field":"t"}}}
]}
]},
{"width":280,"height":150,"layer":[
{"data":{"name":"ttl"},"transform":[{"filter":"datum.p==7"}],"mark":{"type":"rect","color":"white"},"encoding":{"x":{"datum":0.39,"type":"quantitative","scale":{"type":"log","domain":[0.01,30],"nice":false},"axis":{"title":null,"grid":true,"values":[0.01,0.02,0.03,0.04,0.05,0.06,0.07,0.08,0.09,0.1,0.2,0.3,0.4,0.5,0.6,0.7,0.8,0.9,1,2,3,4,5,6,7,8,9,10,20],"tickCount":60,"labelExpr":"indexof([0.01,0.1,1,10,100],datum.value)>=0?''+datum.value:''","ticks":false,"domain":false,"labelFontSize":5,"labelColor":"#555","labelPadding":3,"labelOverlap":false,"labelFlush":false,"gridColor":{"condition":{"test":"indexof([0.01,0.1,1,10,100],datum.value)>=0","value":"#5a5a5a"},"value":"#84c44a"},"gridWidth":{"condition":{"test":"indexof([0.01,0.1,1,10,100],datum.value)>=0","value":2},"value":1.3}}},"x2":{"datum":16.9},"y":{"datum":85,"type":"quantitative","scale":{"domain":[0,120],"nice":false},"axis":{"values":[0,20,40,60,80,100,120],"tickCount":20}},"y2":{"datum":108}}},
{"data":{"name":"red"},"transform":[{"filter":"datum.p==7"}],"mark":{"type":"area","clip":true},"encoding":{"x":{"field":"f","type":"quantitative"},"y":{"field":"hi","type":"quantitative"},"y2":{"field":"lo"},"color":{"datum":"- измеренные пиковые значения","scale":{"domain":["- измеренные пиковые значения","- максимально допустимые пиковые значения"],"range":["#ee2222","#4a4ac8"]},"legend":{"title":null,"orient":"none","legendX":367,"legendY":786,"labelFont":"DejaVu Sans","labelFontWeight":"bold","labelFontSize":14.8,"labelColor":"#1a1a1a","labelLimit":600,"symbolSize":81,"rowPadding":0,"labelOffset":20,"symbolStrokeWidth":2.5,"encode":{"symbols":{"update":{"shape":{"signal":"datum.value=='- измеренные пиковые значения' ? 'M-1.3,0.9L-1,-0.9L-0.65,0.6L-0.3,-1L0,0.8L0.3,-0.8L0.65,0.9L1,-0.6L1.3,0.8' : 'M-2,0.9L0,0.9L0,-0.8L2,-0.8'"},"fill":{"value":"transparent"},"stroke":{"signal":"datum.value=='- измеренные пиковые значения' ? '#ee2222' : '#4a4ac8'"},"strokeWidth":{"value":2.5}}}}}}}},
{"data":{"name":"avg"},"mark":{"type":"line","color":"#e0559c","strokeDash":[3,2],"strokeWidth":1.2},"encoding":{"x":{"field":"f","type":"quantitative"},"y":{"field":"v","type":"quantitative"},"order":{"value":null}}},
{"data":{"name":"lim"},"mark":{"type":"line","strokeWidth":1.6},"encoding":{"x":{"field":"f","type":"quantitative"},"y":{"field":"v","type":"quantitative"},"order":{"value":null},"color":{"datum":"- максимально допустимые пиковые значения"}}},
{"data":{"name":"mk"},"transform":[{"filter":"datum.p==7"}],"mark":{"type":"point","filled":true,"size":22,"opacity":1},"encoding":{"x":{"field":"f","type":"quantitative"},"y":{"field":"v","type":"quantitative"},"fill":{"condition":{"test":"datum.k=='pk'","value":"#111111"},"value":"#3a48c8"},"shape":{"condition":{"test":"datum.k=='pk'","value":"square"},"value":"circle"}}},
{"data":{"name":"ttl"},"transform":[{"filter":"datum.p==7"}],"mark":{"type":"text","font":"Liberation Sans","fontWeight":"bold","fontSize":24.5,"color":"#1c1c1c"},"encoding":{"x":{"datum":2.6},"y":{"datum":97},"text":{"field":"t"}}}
]}
]}
]
}
